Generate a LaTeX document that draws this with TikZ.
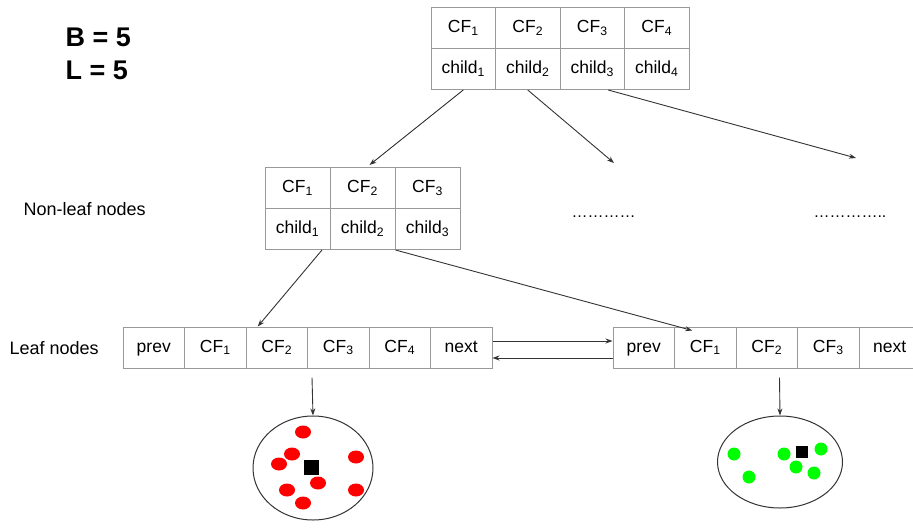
\documentclass[tikz,border=0pt]{standalone}
\usepackage{fontspec}
\setmainfont{Liberation Sans}
\usetikzlibrary{arrows.meta,calc,shapes.geometric}
\newcommand{\idx}[1]{\textsubscript{#1}}

\begin{document}
\begin{tikzpicture}[x=1pt,y=-1pt,
	cell/.style={draw=black!40,line width=1pt,minimum height=41pt,inner sep=0pt,text height=12.5pt,text depth=3pt,font=\fontsize{17.5}{20}\selectfont},
	link/.style={-{Stealth[length=7pt,width=5pt]},draw=black!80,line width=0.9pt},
	label/.style={anchor=west,font=\fontsize{18}{21}\selectfont},
	pt/.style={ellipse,inner sep=0pt,minimum width=16pt,minimum height=13pt}]
	\useasboundingbox (0,0) rectangle (913,530);
	\node[anchor=west,font=\fontsize{27}{30}\selectfont\bfseries] (B) at (62,37) {B = 5};
	\node[anchor=west,font=\fontsize{27}{30}\selectfont\bfseries] (L) at (62,70) {L = 5};
	\node[label] (nonleaf) at (20,209) {Non-leaf nodes};
	\node[label] (leaf) at (6,348) {Leaf nodes};
	\foreach \x in {1,...,4}{
		\node[cell,minimum width=64.5pt,name=R\x] at ({431+64.5*(\x-0.5)},28) {CF\idx{\x}};
		\node[cell,minimum width=64.5pt,name=RC\x] at ({431+64.5*(\x-0.5)},69) {child\idx{\x}};
	}
	\foreach \x in {1,2,3}{
		\node[cell,minimum width=65pt,name=M\x] at ({265+65*(\x-0.5)},188) {CF\idx{\x}};
		\node[cell,minimum width=65pt,name=MC\x] at ({265+65*(\x-0.5)},229) {child\idx{\x}};
	}
	\foreach \x/\t in {1/prev,2/CF\idx{1},3/CF\idx{2},4/CF\idx{3},5/CF\idx{4},6/next}{
		\node[cell,minimum width=61.5pt,name=L\x] at ({123+61.5*(\x-0.5)},347.5) {\t};
	}
	\foreach \x/\t in {1/prev,2/CF\idx{1},3/CF\idx{2},4/CF\idx{3},5/next}{
		\node[cell,minimum width=61.5pt,name=P\x] at ({613+61.5*(\x-0.5)},347.5) {\t};
	}
	\node[label,anchor=base west,font=\fontsize{16}{19}\selectfont] (more1) at (568,217) {…………};
	\node[label,anchor=base west,font=\fontsize{16}{19}\selectfont] (more2) at (810,217) {…………..};
	\coordinate (end1) at (614,163);
	\coordinate (end2) at (856,158);
	\draw[link] (RC1.south) -- ([xshift=7pt,yshift=2pt]M2.north);
	\draw[link] (RC2.south) -- (end1);
	\draw[link] ([xshift=16pt]RC3.south) -- (end2);
	\draw[link] ([xshift=24.5pt]MC1.south) -- ([xshift=-19pt]L3.north);
	\draw[link] (MC2.south east) -- ([xshift=-13pt,yshift=-4pt]P2.north);
	\draw[link] ([yshift=6.5pt]L6.east) -- ([yshift=6.5pt]P1.west);
	\draw[link] ([yshift=-10.5pt]P1.west) -- ([yshift=-10.5pt]L6.east);
	\node[ellipse,draw=black!80,line width=1pt,minimum width=120pt,minimum height=104pt,inner sep=0pt] (E1) at (313,468) {};
	\node[ellipse,draw=black!80,line width=1pt,minimum width=125pt,minimum height=92pt,inner sep=0pt] (E2) at (780,462) {};
	\draw[link] ([xshift=5pt,yshift=-9pt]L4.south west) -- (E1.north);
	\draw[link] ([xshift=44pt,yshift=-9pt]P3.south west) -- (E2.north);
	\foreach \p [count=\i] in {(303,432),(292,454),(279,464),(318,483),(287,490),(303,503),(356,457),(356,490)}{
		\node[pt,fill=red,name=D\i] at \p {};
	}
	\foreach \p [count=\i] in {(734,454),(749,477),(784,454),(796,467),(814,473),(821,449)}{
		\node[pt,fill=green,minimum width=13pt,name=G\i] at \p {};
	}
	\node[fill=black,minimum size=15pt,inner sep=0pt] (S1) at (311,467) {};
	\node[fill=black,minimum size=12pt,inner sep=0pt] (S2) at (802,452) {};
\end{tikzpicture}
\end{document}
